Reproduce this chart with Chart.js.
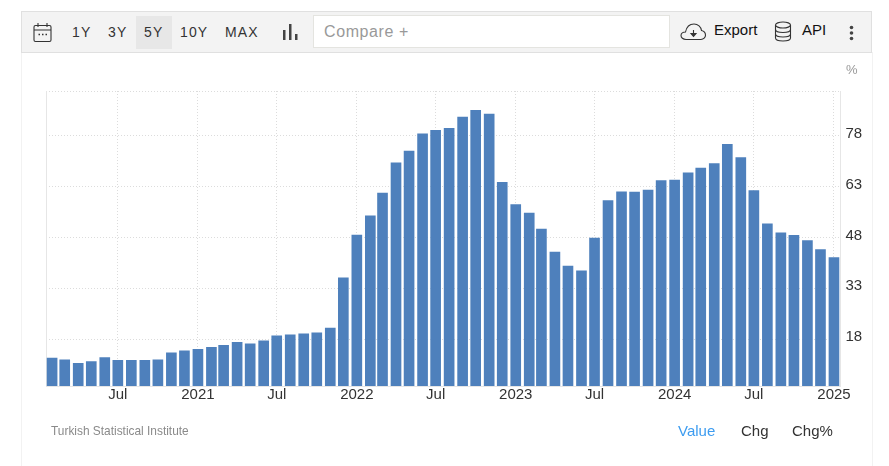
<!DOCTYPE html>
<html>
<head>
<meta charset="utf-8">
<title>Turkey inflation rate</title>
<script src="https://cdn.jsdelivr.net/npm/chart.js@4"></script>
<style>
    html, body { margin: 0; padding: 0; background: #fff; overflow: hidden; }
    body { width: 889px; height: 466px; position: relative; font-family: "Liberation Sans", Arial, sans-serif; color: #333; }
    #panel { position: absolute; left: 21px; top: 52px; width: 850px; height: 414px; border-left: 1px solid #f2f2f2; border-right: 1px solid #f2f2f2; }
    #toolbar { position: absolute; left: 21px; top: 11px; width: 849px; height: 40px; background: #f3f3f3; border: 1px solid #e0e0e0; }
    #chart { position: absolute; left: 0; top: 0; }
    .abs { position: absolute; white-space: nowrap; }
    .range { top: 24px; font-size: 14px; line-height: 16px; letter-spacing: 1.1px; color: #333; }
    .tool { top: 22px; font-size: 15px; line-height: 16px; color: #111; }
    .foot { top: 423px; font-size: 15px; line-height: 16px; color: #333; }
</style>
</head>
<body>
<div id="panel"></div>
<div id="toolbar"></div>
<div class="abs" style="left:136px;top:16px;width:36px;height:33px;background:#e7e7e7"></div>

<svg class="abs" style="left:33px;top:22px" width="20" height="21" fill="none" stroke="#333" stroke-width="1.1">
    <rect x="1" y="3.5" width="17" height="16" rx="1.5"/>
    <path d="M1 8h17M5 1v4M14 1v4"/>
    <path d="M5.5 12.5h1.5M9 12.5h1.5M12.5 12.5h1.5" stroke-width="1.4"/>
</svg>
<div class="abs range" style="left:72px">1Y</div>
<div class="abs range" style="left:108px">3Y</div>
<div class="abs range" style="left:144px">5Y</div>
<div class="abs range" style="left:180px">10Y</div>
<div class="abs range" style="left:225px">MAX</div>
<svg class="abs" style="left:282px;top:23px" width="16" height="18" fill="#444">
    <rect x="1" y="7" width="2.5" height="10"/>
    <rect x="7" y="1" width="2.5" height="16"/>
    <rect x="13" y="11" width="2.5" height="6"/>
</svg>
<div class="abs" style="left:313px;top:15px;width:355px;height:31px;background:#fff;border:1.5px solid #e4e4e0"></div>
<div class="abs" style="left:324px;top:23px;font-size:16px;line-height:18px;letter-spacing:.6px;color:#999">Compare +</div>

<svg class="abs" style="left:680px;top:22px" width="27" height="19" fill="none" stroke="#333" stroke-width="1.1">
    <path d="M6 17.5C3 17.5 1 15.5 1 13.5S3 10 5.500 10C6.500 5 10 2 14 2c4 0 7 3 7.500 6.500 2.500.5 4 2.500 4 4.800 0 2.200-2 4.200-4.500 4.200z"/>
    <path d="M13.500 8v5M11 11.500h5l-2.500 3z" fill="#333"/>
</svg>
<div class="abs tool" style="left:714px">Export</div>
<svg class="abs" style="left:774px;top:21px" width="18" height="21" fill="none" stroke="#333" stroke-width="1.1">
    <ellipse cx="9" cy="4" rx="7.500" ry="3"/>
    <path d="M1.500 4v13c0 1.700 3.300 3 7.500 3s7.500-1.300 7.500-3V4"/>
    <path d="M1.500 8.500c0 1.700 3.300 3 7.500 3s7.500-1.300 7.500-3M1.500 13c0 1.700 3.300 3 7.500 3s7.500-1.300 7.500-3"/>
</svg>
<div class="abs tool" style="left:802px">API</div>
<svg class="abs" style="left:849px;top:25px" width="5" height="16" fill="#444">
    <circle cx="2.500" cy="2.500" r="1.800"/>
    <circle cx="2.500" cy="8" r="1.800"/>
    <circle cx="2.500" cy="13.500" r="1.800"/>
</svg>

<canvas id="chart" width="889" height="466"></canvas>

<div class="abs" style="left:846px;top:62px;font-size:13px;line-height:15px;color:#999">%</div>
<div class="abs" style="left:51px;top:424px;font-size:11.9px;line-height:15px;color:#8a8a8a">Turkish Statistical Institute</div>
<div class="abs foot" style="left:678px;color:#3d9cf0">Value</div>
<div class="abs foot" style="left:741px">Chg</div>
<div class="abs foot" style="left:792px">Chg%</div>

<script>
const months = [
    '2020-02', '2020-03', '2020-04', '2020-05', '2020-06', '2020-07', '2020-08', '2020-09', '2020-10', '2020-11', '2020-12',
    '2021-01', '2021-02', '2021-03', '2021-04', '2021-05', '2021-06', '2021-07', '2021-08', '2021-09', '2021-10', '2021-11', '2021-12',
    '2022-01', '2022-02', '2022-03', '2022-04', '2022-05', '2022-06', '2022-07', '2022-08', '2022-09', '2022-10', '2022-11', '2022-12',
    '2023-01', '2023-02', '2023-03', '2023-04', '2023-05', '2023-06', '2023-07', '2023-08', '2023-09', '2023-10', '2023-11', '2023-12',
    '2024-01', '2024-02', '2024-03', '2024-04', '2024-05', '2024-06', '2024-07', '2024-08', '2024-09', '2024-10', '2024-11', '2024-12',
    '2025-01'
];
const values = [
    12.4, 11.9, 10.9, 11.4, 12.6, 11.8, 11.8, 11.8, 11.9, 14.0, 14.6,
    15.0, 15.6, 16.2, 17.1, 16.6, 17.5, 19.0, 19.3, 19.6, 19.9, 21.3, 36.1,
    48.7, 54.4, 61.1, 70.0, 73.5, 78.6, 79.6, 80.2, 83.5, 85.5, 84.4, 64.3,
    57.7, 55.2, 50.5, 43.7, 39.6, 38.2, 47.8, 58.9, 61.5, 61.4, 62.0, 64.8,
    64.9, 67.1, 68.5, 69.8, 75.5, 71.6, 61.8, 52.0, 49.4, 48.6, 47.1, 44.4,
    42.1
];
const xTickMonths = ['2020-07', '2021-01', '2021-07', '2022-01', '2022-07', '2023-01', '2023-07', '2024-01', '2024-07', '2025-01'];
const xTickLabels = ['Jul', '2021', 'Jul', '2022', 'Jul', '2023', 'Jul', '2024', 'Jul', '2025'];
const yTicks = [18, 33, 48, 63, 78];

const toTime = function (s) {
    return Date.parse(s.length === 7 ? s + '-01T00:00:00Z' : s + 'T00:00:00Z');
};

const xMin = toTime('2020-01-18');
const xMax = toTime('2025-01-16');
const yMin = 4.2;
const yMax = 91.2;

const gridColor = '#dcdcdc';
const axisColor = '#e6e6e6';

const points = months.map(function (m, i) {
    return {x: toTime(m), y: values[i]};
});

Chart.defaults.font.family = '"Liberation Sans", Arial, sans-serif';
Chart.defaults.font.size = 15;
Chart.defaults.color = '#333';

new Chart(document.getElementById('chart'), {
    type: 'bar',
    data: {
        datasets: [{
            label: 'Inflation rate',
            data: points,
            backgroundColor: '#4e80bc',
            borderWidth: 0,
            barThickness: 10,
            yAxisID: 'y'
        }]
    },
    options: {
        responsive: false,
        animation: false,
        devicePixelRatio: 1,
        layout: {padding: {left: 46, top: 91}},
        plugins: {legend: {display: false}, tooltip: {enabled: false}},
        scales: {
            x: {
                type: 'linear',
                offset: false,
                min: xMin,
                max: xMax,
                afterBuildTicks: function (scale) {
                    scale.ticks = xTickMonths.map(function (m) {
                        return {value: toTime(m)};
                    });
                },
                afterFit: function (scale) {
                    scale.height = 80;
                },
                grid: {color: gridColor, drawTicks: false, offset: false},
                border: {color: axisColor, dash: [1, 2]},
                ticks: {
                    autoSkip: false,
                    maxRotation: 0,
                    padding: 0,
                    color: '#333',
                    callback: function (value, index) {
                        return xTickLabels[index];
                    }
                }
            },
            y: {
                position: 'right',
                min: yMin,
                max: yMax,
                afterBuildTicks: function (scale) {
                    scale.ticks = yTicks.concat([yMax]).map(function (v) {
                        return {value: v};
                    });
                },
                afterFit: function (scale) {
                    scale.width = 48.5;
                },
                grid: {color: gridColor, drawTicks: false},
                border: {color: axisColor, dash: [1, 2]},
                ticks: {
                    padding: 5,
                    labelOffset: -2,
                    color: '#333',
                    callback: function (value) {
                        return yTicks.indexOf(value) === -1 ? '' : String(value);
                    }
                }
            },
            yLeft: {
                position: 'left',
                display: true,
                min: yMin,
                max: yMax,
                afterFit: function (scale) {
                    scale.width = 0;
                },
                grid: {display: false},
                border: {color: axisColor},
                ticks: {display: false}
            }
        }
    }
});
</script>
</body>
</html>
